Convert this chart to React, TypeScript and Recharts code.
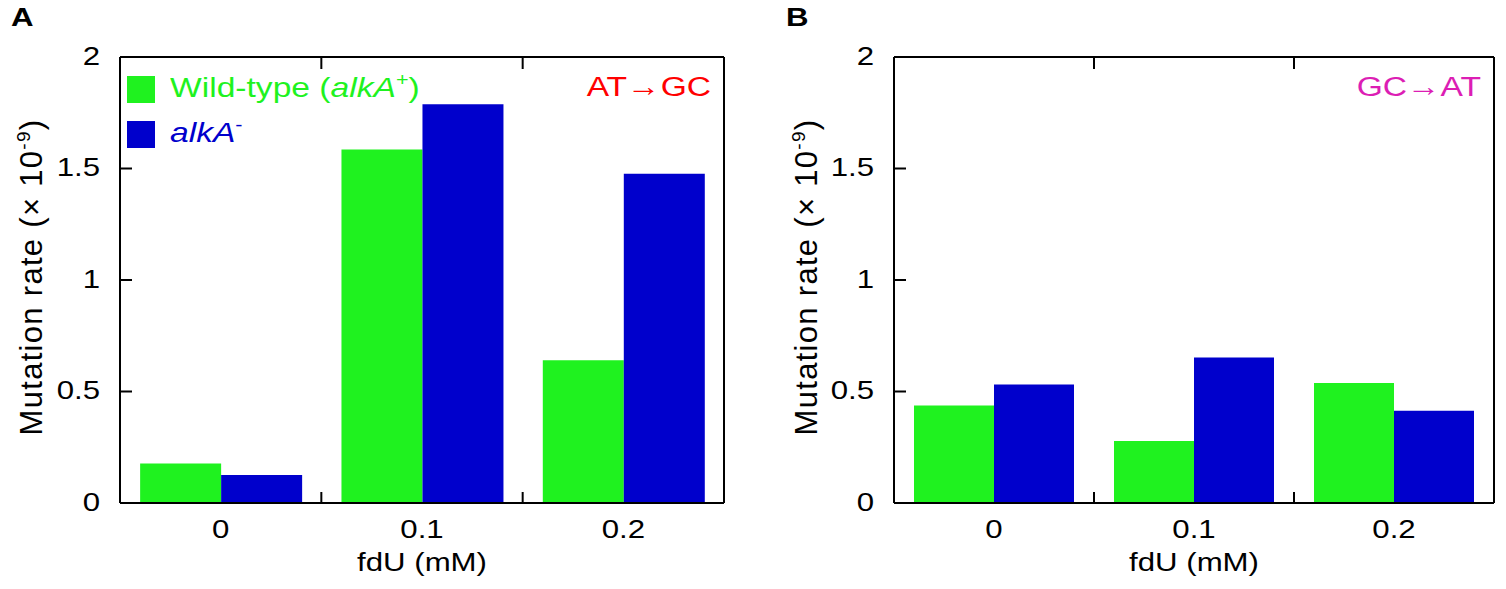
import React from 'react';
import { BarChart, Bar, XAxis, YAxis, Legend, Label } from 'recharts';

// ---------- data ----------
const categories = ['0', '0.1', '0.2'];
const yTicks = [0, 0.5, 1, 1.5, 2];

const atgcWildType = [0.177, 1.585, 0.64];
const atgcAlkA = [0.126, 1.788, 1.477];

const gcatWildType = [0.437, 0.278, 0.538];
const gcatAlkA = [0.531, 0.652, 0.414];

const seriesNames = ['Wild-type (alkA+)', 'alkA-'];
const panelLetters = ['A', 'B'];
const annotations = ['AT\u2192GC', 'GC\u2192AT'];
const xAxisTitle = 'fdU (mM)';

// ---------- styles ----------
const FONT = '"Liberation Sans", Arial, Helvetica, sans-serif';
const SX = 1.2;
const GREEN = '#1ff21f';
const BLUE = '#0000cc';
const ANNOT_COLORS = ['#ff0000', '#dc1eb4'];
const TICK_LEN = 12;

const buildData = (wt: number[], mut: number[]) =>
  categories.map((c, i) => ({ fdU: c, wt: wt[i], mut: mut[i] }));

// left axis: label outside, tick line inward
const LeftTick = (props: any) => {
  const { x, y, payload } = props;
  return (
    <g>
      <line x1={x} x2={x + TICK_LEN} y1={y} y2={y} stroke="#000" strokeWidth={2} />
      <text
        transform={`translate(${x - 20},${y + 7.5}) scale(${SX},1)`}
        textAnchor="end"
        fontSize={26}
        fontFamily={FONT}
        fill="#000"
      >
        {payload.value}
      </text>
    </g>
  );
};

// right axis: tick line inward only
const RightTick = (props: any) => {
  const { x, y } = props;
  return <line x1={x} x2={x - TICK_LEN} y1={y} y2={y} stroke="#000" strokeWidth={2} />;
};

// bottom category axis: label at band centre, tick line at band boundary
const BottomTick = (props: any) => {
  const { x, y, payload, index } = props;
  const half = payload && typeof payload.offset === 'number' ? payload.offset : 0;
  const showLine = index < categories.length - 1 && half > 0;
  return (
    <g>
      {showLine && (
        <line x1={x + half} x2={x + half} y1={y} y2={y - TICK_LEN + 1} stroke="#000" strokeWidth={2} />
      )}
      <text
        transform={`translate(${x},${y + 35}) scale(${SX},1)`}
        textAnchor="middle"
        fontSize={26}
        fontFamily={FONT}
        fill="#000"
      >
        {payload.value}
      </text>
    </g>
  );
};

// top category axis: tick line at band boundary, pointing down
const TopTick = (props: any) => {
  const { x, y, payload, index } = props;
  const half = payload && typeof payload.offset === 'number' ? payload.offset : 0;
  if (!(index < categories.length - 1 && half > 0)) return <g />;
  return <line x1={x + half} x2={x + half} y1={y} y2={y + TICK_LEN} stroke="#000" strokeWidth={2} />;
};

const YTitle = (props: any) => {
  const { x, y, height } = props.viewBox;
  const cx = x + 42;
  const cy = y + height / 2 - 3;
  return (
    <text
      transform={`translate(${cx},${cy}) rotate(-90)`}
      textAnchor="middle"
      fontSize={31}
      fontFamily={FONT}
      letterSpacing={1.3}
      fill="#000"
    >
      Mutation rate (× 10
      <tspan dy={-12} fontSize={19}>-9</tspan>
      <tspan dy={12}>)</tspan>
    </text>
  );
};

const XTitle = (props: any) => {
  const { x, y, width } = props.viewBox;
  return (
    <text
      transform={`translate(${x + width / 2},${y + 68}) scale(${SX},1)`}
      textAnchor="middle"
      fontSize={26}
      fontFamily={FONT}
      fill="#000"
    >
      {xAxisTitle}
    </text>
  );
};

const makeAnnotation = (text: string, color: string) => (props: any) => {
  const { x, y } = props.viewBox;
  return (
    <text
      transform={`translate(${x - 13},${y + 39}) scale(${SX},1)`}
      textAnchor="end"
      fontSize={28}
      fontFamily={FONT}
      fill={color}
    >
      {text}
    </text>
  );
};

const renderSeriesName = (name: string) => {
  const m = name.match(/^(.*?)(alkA)([+-])(.*)$/);
  if (!m) return name;
  return (
    <>
      {m[1]}
      <i>{m[2]}</i>
      <span style={{ fontSize: 18, position: 'relative', top: -11 }}>{m[3]}</span>
      {m[4]}
    </>
  );
};

const LegendContent = (props: any) => {
  const payload = props.payload || [];
  return (
    <div style={{ fontFamily: FONT }}>
      {payload.map((entry: any, i: number) => (
        <div key={i} style={{ display: 'flex', alignItems: 'center', height: 45 }}>
          <div style={{ width: 28, height: 27, background: entry.color, flex: 'none' }} />
          <span
            style={{
              marginLeft: 15,
              fontSize: 28,
              color: entry.color,
              display: 'inline-block',
              whiteSpace: 'nowrap',
              transform: `scaleX(${SX})`,
              transformOrigin: 'left center',
              lineHeight: '30px',
            }}
          >
            {renderSeriesName(String(entry.value))}
          </span>
        </div>
      ))}
    </div>
  );
};

const axisLineStyle = { stroke: '#000', strokeWidth: 2 };

type PanelProps = {
  data: any[];
  width: number;
  leftWidth: number;
  rightMargin: number;
  annotation: string;
  annotationColor: string;
  showLegend: boolean;
};

const Panel = ({ data, width, leftWidth, rightMargin, annotation, annotationColor, showLegend }: PanelProps) => (
  <BarChart
    width={width}
    height={589}
    data={data}
    margin={{ top: 56, right: rightMargin, bottom: 6, left: 0 }}
    barCategoryGap="10%"
    barGap={0}
  >
    <XAxis
      xAxisId="cat"
      dataKey="fdU"
      type="category"
      orientation="bottom"
      height={80}
      interval={0}
      tickSize={0}
      tickMargin={0}
      tickLine={false}
      axisLine={axisLineStyle}
      tick={BottomTick}
    >
      <Label content={XTitle} />
    </XAxis>
    <XAxis
      xAxisId="top"
      dataKey="fdU"
      type="category"
      orientation="top"
      height={1}
      interval={0}
      tickSize={0}
      tickMargin={0}
      tickLine={false}
      axisLine={axisLineStyle}
      tick={TopTick}
    />
    <YAxis
      yAxisId="left"
      orientation="left"
      domain={[0, 2]}
      ticks={yTicks}
      interval={0}
      width={leftWidth}
      tickSize={0}
      tickMargin={0}
      tickLine={false}
      axisLine={axisLineStyle}
      tick={LeftTick}
    >
      <Label content={YTitle} />
    </YAxis>
    <YAxis
      yAxisId="right"
      orientation="right"
      domain={[0, 2]}
      ticks={yTicks}
      interval={0}
      width={1}
      tickSize={0}
      tickMargin={0}
      tickLine={false}
      axisLine={axisLineStyle}
      tick={RightTick}
    >
      <Label content={makeAnnotation(annotation, annotationColor)} />
    </YAxis>
    {showLegend && (
      <Legend
        layout="horizontal"
        align="center"
        verticalAlign="middle"
        wrapperStyle={{ top: 67, left: 127, width: 330, height: 90 }}
        content={LegendContent}
      />
    )}
    <Bar
      xAxisId="cat"
      yAxisId="left"
      dataKey="wt"
      name={seriesNames[0]}
      fill={GREEN}
      legendType="square"
      isAnimationActive={false}
    />
    <Bar
      xAxisId="cat"
      yAxisId="left"
      dataKey="mut"
      name={seriesNames[1]}
      fill={BLUE}
      legendType="square"
      isAnimationActive={false}
    />
  </BarChart>
);

const letterStyle: React.CSSProperties = {
  position: 'absolute',
  top: 4,
  fontFamily: FONT,
  fontWeight: 'bold',
  fontSize: 26,
  lineHeight: '26px',
  transform: `scaleX(${SX})`,
  transformOrigin: 'left top',
  color: '#000',
};

export default function App() {
  return (
    <div
      style={{
        position: 'absolute',
        left: 0,
        top: 0,
        width: 1506,
        height: 589,
        background: '#fff',
        overflow: 'hidden',
      }}
    >
      <div style={{ position: 'absolute', left: 0, top: 0 }}>
        <Panel
          data={buildData(atgcWildType, atgcAlkA)}
          width={760}
          leftWidth={120}
          rightMargin={35}
          annotation={annotations[0]}
          annotationColor={ANNOT_COLORS[0]}
          showLegend
        />
      </div>
      <div style={{ position: 'absolute', left: 775, top: 0 }}>
        <Panel
          data={buildData(gcatWildType, gcatAlkA)}
          width={731}
          leftWidth={119}
          rightMargin={11}
          annotation={annotations[1]}
          annotationColor={ANNOT_COLORS[1]}
          showLegend={false}
        />
      </div>
      <div style={{ ...letterStyle, left: 11 }}>{panelLetters[0]}</div>
      <div style={{ ...letterStyle, left: 786 }}>{panelLetters[1]}</div>
    </div>
  );
}
